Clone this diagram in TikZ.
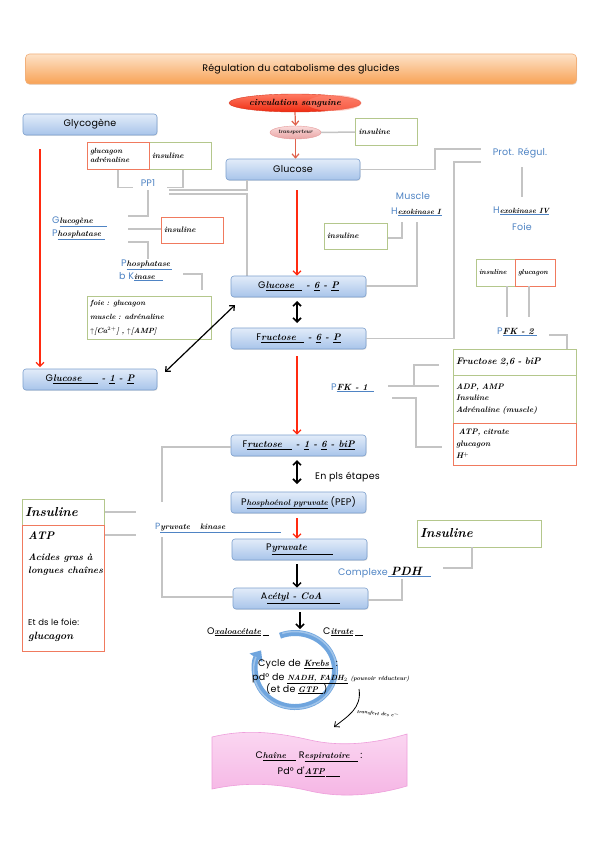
\documentclass[tikz,border=0pt]{standalone}
\usepackage{fontspec}
\newfontfamily\pf[LetterSpace=2]{Poppins}
\usetikzlibrary{arrows.meta,shapes.geometric,shadows}
\definecolor{bborder}{HTML}{7C9FCD}
\definecolor{btop}{HTML}{E2ECF9}
\definecolor{bbot}{HTML}{A8C4EA}
\definecolor{ttop}{HTML}{FDE2C8}
\definecolor{tbot}{HTML}{F8A255}
\definecolor{tbord}{HTML}{F2B07A}
\definecolor{rboxc}{HTML}{F07A5E}
\definecolor{gboxc}{HTML}{B4C78C}
\definecolor{gline}{HTML}{C4C4C4}
\definecolor{lblue}{HTML}{4F84C4}
\definecolor{redarr}{HTML}{FF2A10}
\definecolor{salmon}{HTML}{E0624D}
\definecolor{cycb}{HTML}{6FA5DE}
\definecolor{pinkt}{HTML}{FBD8F2}
\definecolor{pinkb}{HTML}{F5B4E4}
\definecolor{pinkd}{HTML}{EE9EDB}
\definecolor{circd}{HTML}{D83A24}
\definecolor{circt}{HTML}{FF7A62}
\definecolor{circb}{HTML}{EE2A10}
\definecolor{circh}{HTML}{FF8F7C}
\definecolor{trd}{HTML}{E59A9A}
\definecolor{trt}{HTML}{FADADA}
\definecolor{trb}{HTML}{E9A5A5}
\newcommand\hw[1]{{\rmfamily\bfseries\itshape #1}}
\newcommand\bu[1]{\textcolor{lblue}{\underline{\textcolor{black}{#1}}}}
\newcommand\fs[2]{\fontsize{#1}{#2}\selectfont}
\begin{document}
\begin{tikzpicture}[x=1pt,y=-1pt,
  bbox/.style={draw=bborder, line width=0.6pt, rounded corners=3pt, top color=btop, bottom color=bbot, minimum width=135pt, minimum height=21pt, inner sep=0pt, font=\pf\fs{9.5}{11}, drop shadow={opacity=0.2, shadow xshift=0.7pt, shadow yshift=-0.9pt}},
  rbox/.style={draw=rboxc, line width=1pt, fill=white, inner xsep=3pt, inner ysep=1pt, align=left, font=\fs{8}{9}},
  gbox/.style={draw=gboxc, line width=1pt, fill=white, inner xsep=3pt, inner ysep=1pt, align=left, font=\fs{8}{9}},
  gl/.style={draw=gline, line width=1.5pt},
  lab/.style={inner sep=0pt, font=\pf\fs{9.5}{11}, text=lblue},
  hwl/.style={inner sep=0pt, font=\fs{8}{9}},
  redarrow/.style={draw=redarr, line width=1.3pt, -{Straight Barb[length=4pt,width=8pt]}},
  salarrow/.style={draw=salmon, line width=1.2pt, -{Straight Barb[length=4pt,width=7pt]}},
  blkarrow/.style={draw=black, line width=1.5pt, -{Straight Barb[length=4pt,width=8pt]}},
  dblarrow/.style={draw=black, line width=1.6pt, {Straight Barb[length=4pt,width=8pt]}-{Straight Barb[length=4pt,width=8pt]}},
]
\useasboundingbox (0,0) rectangle (599,848);
\fill[white] (0,0) rectangle (599,848);

% title
\node[bbox, minimum width=551pt, minimum height=30pt, rounded corners=4pt, draw=tbord, top color=ttop, bottom color=tbot] (title) at (301,69) {Régulation du catabolisme des glucides};

% circulation sanguine
\node[ellipse, minimum width=132pt, minimum height=18pt, inner sep=0pt, draw=circd, top color=circt, bottom color=circb] (circ) at (295,103) {};
\fill[circh, opacity=0.45] (334,103) ellipse[x radius=27, y radius=8];
\node[hwl, font=\fs{9}{10}] at (circ) {\hw{circulation sanguine}};

% transporteur
\node[ellipse, minimum width=51pt, minimum height=13pt, inner sep=0pt, draw=trd, top color=trt, bottom color=trb] (tr) at (295.5,132.5) {};
\node[hwl, font=\fs{5.5}{6}] at (tr) {\hw{transporteur}};
\node[gbox, text width=56pt, minimum height=26pt] (ins1) at (386.5,132) {\hw{insuline}};
\draw[gl] (tr.east) -- (ins1.west);

% Glucose
\node[bbox, minimum width=134pt] (glc) at (293,169.5) {Glucose};
\draw[salarrow] (circ.south) -- (tr.north);
\draw[salarrow] (tr.south) -- (tr.south |- glc.north);

% Glycogene and G1P
\node[bbox, minimum width=134pt] (gly) at (90,124.5) {Glycogène};
\node[bbox, minimum width=134pt] (g1p) at (90,379.5) {G\hw{\fs{9.5}{10}\underline{lucose\hspace{16pt}} - \underline{1} - \underline{P}}};
\coordinate (gyA) at (40,149);
\draw[redarrow, shorten >=1.5pt] (gyA) -- (gyA |- g1p.north);

% PP1 regulators
\node[gbox, text width=56pt, minimum height=27pt] (ins2) at (180,155.5) {\hw{insuline}};
\node[rbox, text width=56pt, minimum height=27pt, font=\fs{7.5}{9.5}] (ga) at (118,155.5) {\hw{glucagon}\\\hw{adrénaline}};
\node[lab] (pp1) at (148,183) {PP1};
\draw[gl] (ga.south) -- ++(0,18) -- ++(15,0);
\draw[gl] ([xshift=3pt]ins2.south) -- ++(0,18) -- ++(-16,0);
\draw[gl] (169,190) -| ([xshift=-46pt]glc.south);
\coordinate (g6pTop) at (247,276);
\draw[gl] (169,194) -| (g6pTop);
\draw[gl] (148,190) |- (128,216);
\node[rbox, text width=56pt, minimum height=26pt] (ins3) at (192,230) {\hw{insuline}};
\draw[gl] (128,229) -- (ins3.west |- 0,229);
\draw[gl] (128,242) -| (148,259);

\node[lab, anchor=base west] at (52,223) {G\bu{\hw{\fs{8}{9}lucogène}\hspace{14pt}}};
\node[lab, anchor=base west] at (52,236) {P\bu{\hw{\fs{8}{9}hosphatase}\hspace{4pt}}};
\node[lab, anchor=base west] at (121,266) {P\bu{\hw{\fs{8}{9}hosphatase}\hspace{2pt}}};
\node[lab, anchor=base west] at (119,279) {b K\bu{\hw{\fs{8}{9}inase}\hspace{8pt}}};
\draw[gl] (183,274) -| (202,290);
\node[gbox, text width=118pt, minimum height=43pt, font=\fs{7.5}{14}] (foie) at (149,317.5) {\hw{foie : glucagon}\\\hw{muscle : adrénaline}\\\hw{$\uparrow$[Ca$^{2+}$] , $\uparrow$[AMP]}};

% central column
\node[bbox] (g6p) at (298.5,286.5) {G\hw{\fs{9.5}{10}\underline{lucose\hspace{8pt}} - \underline{6} - \underline{P}}};
\node[bbox] (f6p) at (298.5,338.5) {F\hw{\fs{9.5}{10}\underline{ructose\hspace{8pt}} - \underline{6} - \underline{P}}};
\node[bbox] (f16) at (298.5,445.5) {F\hw{\fs{9.5}{10}\underline{ructose\hspace{10pt}} - \underline{1} - \underline{6} - \underline{biP}}};
\node[bbox] (pep) at (298.5,502.5) {P\hw{\fs{8}{9}\underline{hosphoénol pyruvate}} (PEP)};
\node[bbox] (pyr) at (299.5,549.5) {P\hw{\fs{9.5}{10}\underline{yruvate\hspace{26pt}}}};
\node[bbox] (acc) at (300.5,598.5) {A\hw{\fs{9.5}{10}\underline{cétyl - CoA\hspace{18pt}}}};

\coordinate (a1) at (297,190);
\draw[redarrow] (a1) -- (a1 |- g6p.north);
\draw[dblarrow] (297,301) -- (297,323);
\coordinate (a2) at (297,356);
\draw[redarrow] (a2) -- (a2 |- f16.north);
\draw[dblarrow] (297,460) -- (297,484);
\node[inner sep=0pt, anchor=base west, font=\pf\fs{9.5}{11}] (pls) at (315,479) {En pls étapes};
\coordinate (a3) at (297,518);
\draw[redarrow] (a3) -- (a3 |- pyr.north);
\coordinate (a4) at (297,564);
\draw[blkarrow] (a4) -- (a4 |- acc.north);
\coordinate (a5) at (300,612);
\draw[blkarrow] (a5) -- (300,629);

% double arrow G1P <-> G6P
\coordinate (d1) at (165,372);
\coordinate (d2) at (235,305);
\draw[draw=black, line width=1.2pt, {Straight Barb[length=4pt,width=7pt]}-{Straight Barb[length=4pt,width=7pt]}] (d1) -- (d2);

% hexokinase I
\node[lab] (mus) at (413,196) {Muscle};
\node[lab, anchor=base west] (hk1) at (391,214) {H\bu{\hw{\fs{7.5}{8}exokinase I}\hspace{1pt}}};
\node[gbox, text width=57pt, minimum height=26pt] (ins4) at (355.5,236) {\hw{insuline}};
\draw[gl] (ins4.east |- 0,238) -| (402,222);
\draw[gl] (g6p.east |- 0,286) -| (417,222);

% Prot. regul
\node[lab] (prot) at (520,153) {Prot. Régul.};
\draw[gl] (glc.east) -| (435,149) -- (481,149);
\draw[gl] (f6p.east) -| (454,162) -- (481,162);
\draw[gl] (522,167) -- (522,197);
\node[lab, anchor=base west] (hk4) at (493,213) {H\bu{\hw{\fs{7.5}{8}exokinase IV}}};
\node[lab] (foieL) at (522,227) {Foie};

% PFK-2
\node[gbox, text width=33pt, minimum height=27pt, font=\fs{7}{8}] (ins5) at (495.5,272.5) {\hw{insuline}};
\node[rbox, text width=34pt, minimum height=27pt, font=\fs{7}{8}] (glu5) at (535,272.5) {\hw{glucagon}};
\draw[gl] (507,286) -- (507,317);
\draw[gl] (529,286) -- (529,317);
\node[lab, anchor=base west] (pfk2) at (497,334) {P\bu{\hw{\fs{9}{10}FK - 2}\hspace{3pt}}};
\draw[gl] (549,335) -| (567,349);

\node[gbox, text width=117pt, minimum height=26pt, font=\fs{9.5}{10}] (f26) at (514.5,362) {\hw{Fructose 2,6 - biP}};
\node[gbox, text width=117pt, minimum height=48pt, font=\fs{8}{11.5}] (act) at (514.5,399) {\hw{ADP, AMP}\\\hw{Insuline}\\\hw{Adrénaline (muscle)}};
\node[rbox, text width=117pt, minimum height=42pt, font=\fs{8}{12}] (inh) at (514.5,444) {\hw{\ ATP, citrate}\\\hw{glucagon}\\\hw{H$^+$}};

% PFK-1
\node[lab, anchor=base west] (pfk1) at (331,390) {P\bu{\hw{\fs{9}{10}FK - 1}\hspace{6pt}}};
\draw[gl] (388,386) -- (439,386);
\draw[gl] (414,386) |- (439,365);
\draw[gl] (392,398) -| (416,447) -- (442,447);

% pyruvate kinase
\node[inner sep=0pt, anchor=base west, font=\pf\fs{9}{10}] (pk) at (155,529) {\textcolor{lblue}{P}\bu{\hw{\fs{8}{9}yruvate\hspace{10pt}kinase}\hspace{56pt}}};
\draw[gl] (f16.west |- 0,447) -| (162,502);
\draw[gl] (162,537) |- (acc.west |- 0,597);
\node[gbox, text width=76pt, minimum height=26pt, font=\fs{13}{14}] (insL) at (63,512) {\hw{Insuline}};
\node[rbox, minimum width=82pt, minimum height=126pt] (inhL) at (63,588) {};
\draw[gl] (105,512) -- (136,512);
\draw[gl] (105,535) -- (136,535);
\node[hwl, anchor=base west, font=\fs{11}{12}] at (28,539) {\hw{ATP}};
\node[hwl, anchor=base west, font=\fs{9.5}{10}] at (28,560) {\hw{Acides gras à}};
\node[hwl, anchor=base west, font=\fs{9.5}{10}] at (28,573) {\hw{longues chaînes}};
\node[hwl, anchor=base west, font=\pf\fs{8.5}{9}] at (28,625) {Et ds le foie:};
\node[hwl, anchor=base west, font=\fs{10.5}{11}] at (28,639) {\hw{glucagon}};

% PDH
\node[gbox, text width=118pt, minimum height=27pt, font=\fs{13}{14}] (insR) at (479,533.5) {\hw{Insuline}};
\draw[gl] (472,547) |- (443,568);
\node[lab, anchor=base west] (pdh) at (338,575) {Complexe\bu{\hspace{3pt}\hw{\fs{12}{13}PDH}\hspace{9pt}}};
\draw[gl] (acc.east |- 0,600) -| (402,579);

% Krebs
\node[hwl, anchor=base west, font=\pf\fs{9.5}{11}] (oxa) at (207,634) {O\underline{\hw{\fs{8.5}{9}xaloacétate}}\,\underline{\hspace{6pt}}};
\node[hwl, anchor=base west, font=\pf\fs{9.5}{11}] (cit) at (323,634) {C\underline{\hw{\fs{8.5}{9}itrate}}\,\underline{\hspace{8pt}}};
\begin{scope}[shift={(295,670)}, y=1pt]
\draw[cycb, line width=6pt, -{Triangle[length=9pt,width=15pt]}] (112:40 and 37) arc[start angle=112, end angle=-212, x radius=40, y radius=37];
\draw[white, opacity=0.35, line width=1.5pt] (108:41.5 and 38.5) arc[start angle=108, end angle=-200, x radius=41.5, y radius=38.5];
\end{scope}
\node[inner sep=0pt, font=\pf\fs{9.5}{11}] (kr) at (298,664) {Cycle de \underline{\hw{\fs{9}{10}Krebs}\hspace{4pt}} :};
\node[inner sep=0pt, anchor=base west, font=\pf\fs{9.5}{11}] (nadh) at (252,680) {pd° de \underline{\hw{\fs{7.5}{8}NADH, FADH$_2$}} \hw{\fs{6}{7}(pouvoir réducteur)}};
\node[inner sep=0pt, anchor=base west, font=\pf\fs{9.5}{11}] (gtp) at (266,692) {(et de \underline{\hw{\fs{8}{9}GTP}\hspace{5pt}})};
\coordinate (t1) at (359,689);
\coordinate (t2) at (334,727);
\draw[black, line width=0.8pt, -{Straight Barb[length=4pt,width=7pt]}] (t1) .. controls (362,708) and (348,716) .. (t2);
\node[hwl, font=\fs{5}{6}, rotate=-6, anchor=west] at (357,711) {\hw{transfert des e$^-$}};

% chaine respiratoire
\path[draw=pinkd, line width=0.6pt, top color=pinkt, bottom color=pinkb] (212,737) .. controls (245,729) and (275,732) .. (310,740) .. controls (345,748) and (380,742) .. (407,734) -- (407,786) .. controls (380,794) and (345,799) .. (310,791) .. controls (275,783) and (245,782) .. (212,789) -- cycle;
\node[inner sep=0pt, font=\pf\fs{9.5}{11}] (ch) at (309,757) {C\underline{\hw{\fs{8.5}{9}haîne}\hspace{10pt}} R\underline{\hw{\fs{8.5}{9}espiratoire}\hspace{8pt}} :};
\node[inner sep=0pt, font=\pf\fs{9.5}{11}] (atp) at (309,772) {Pd° d'\underline{\hw{\fs{8.5}{9}ATP}}\,\underline{\hspace{14pt}}};
\end{tikzpicture}
\end{document}
